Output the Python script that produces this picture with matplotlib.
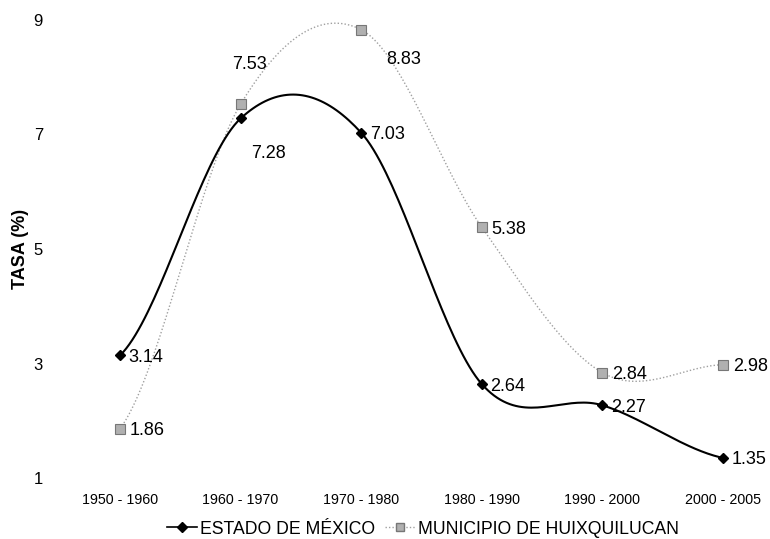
import numpy as np
import matplotlib.pyplot as plt

plt.rcParams['font.family'] = ['Liberation Sans', 'DejaVu Sans']

periodos = ['1950 - 1960', '1960 - 1970', '1970 - 1980',
            '1980 - 1990', '1990 - 2000', '2000 - 2005']
estado = [3.14, 7.28, 7.03, 2.64, 2.27, 1.35]
municipio = [1.86, 7.53, 8.83, 5.38, 2.84, 2.98]


def suavizar(x, y, n=40):
    # Catmull-Rom curve through the points, like a spreadsheet "smoothed line"
    x = np.asarray(x, float)
    y = np.asarray(y, float)
    px = np.concatenate([[2 * x[0] - x[1]], x, [2 * x[-1] - x[-2]]])
    py = np.concatenate([[y[0]], y, [y[-1]]])
    xs, ys = [], []
    for i in range(1, len(px) - 2):
        t = np.linspace(0, 1, n)
        for p, out in ((px, xs), (py, ys)):
            p0, p1, p2, p3 = p[i - 1], p[i], p[i + 1], p[i + 2]
            out.extend(0.5 * ((2 * p1) + (-p0 + p2) * t +
                              (2 * p0 - 5 * p1 + 4 * p2 - p3) * t ** 2 +
                              (-p0 + 3 * p1 - 3 * p2 + p3) * t ** 3))
    return np.array(xs), np.array(ys)


fig = plt.figure(figsize=(7.7, 5.39), dpi=100)
ax = fig.add_axes([59.7 / 770, 1 - 478 / 539, 699.5 / 770, 458 / 539])

xi = np.arange(len(periodos))

sx, sy = suavizar(xi, municipio)
ax.plot(sx, sy, color='#a0a0a0', lw=1.0, ls=(0, (1, 1.5)), zorder=2)
ax.plot(xi, municipio, ls='none', marker='s', ms=6.5, mfc='#b0b0b0',
        mec='#777777', mew=0.8, zorder=3)

sx, sy = suavizar(xi, estado)
ax.plot(sx, sy, color='black', lw=1.5, zorder=4)
ax.plot(xi, estado, ls='none', marker='D', ms=5.5, color='black', zorder=5)

# data labels (offsets in data units from each point)
off_est = {1: (0.09, -0.58)}
for i, v in enumerate(estado):
    dx, dy = off_est.get(i, (0.07, 0.0))
    ax.text(i + dx, v + dy, '%.2f' % v, fontsize=13, va='center_baseline',
            ha='left', zorder=6)

off_mun = {1: (-0.07, 0.73), 2: (0.21, -0.49)}
for i, v in enumerate(municipio):
    dx, dy = off_mun.get(i, (0.08, 0.0))
    ax.text(i + dx, v + dy, '%.2f' % v, fontsize=13, va='center_baseline',
            ha='left', zorder=6)

ax.set_xlim(-0.5, 5.3)
ax.set_ylim(1, 9)
ax.set_yticks([1, 3, 5, 7, 9])
ax.set_xticks(xi)
ax.set_xticklabels(periodos)
ax.tick_params(axis='y', length=0, pad=12, labelsize=12)
ax.tick_params(axis='x', length=0, pad=11, labelsize=10.3)
ax.set_ylabel('TASA (%)', fontsize=13, fontweight='bold', labelpad=3)
for s in ax.spines.values():
    s.set_visible(False)

h1, = ax.plot([], [], color='black', lw=1.2, marker='D', ms=5)
h2, = ax.plot([], [], color='#a0a0a0', lw=1.0, ls=(0, (1, 1.5)), marker='s',
              ms=6, mfc='#b0b0b0', mec='#777777')
fig.legend([h1, h2], ['ESTADO DE MÉXICO', 'MUNICIPIO DE HUIXQUILUCAN'],
           loc='center', bbox_to_anchor=(423 / 770, 1 - 529 / 539), ncol=2,
           frameon=False, fontsize=12.7, handlelength=1.7, handletextpad=0.15,
           columnspacing=0.6, borderpad=0.1)

fig.savefig('out.png', dpi=100)
